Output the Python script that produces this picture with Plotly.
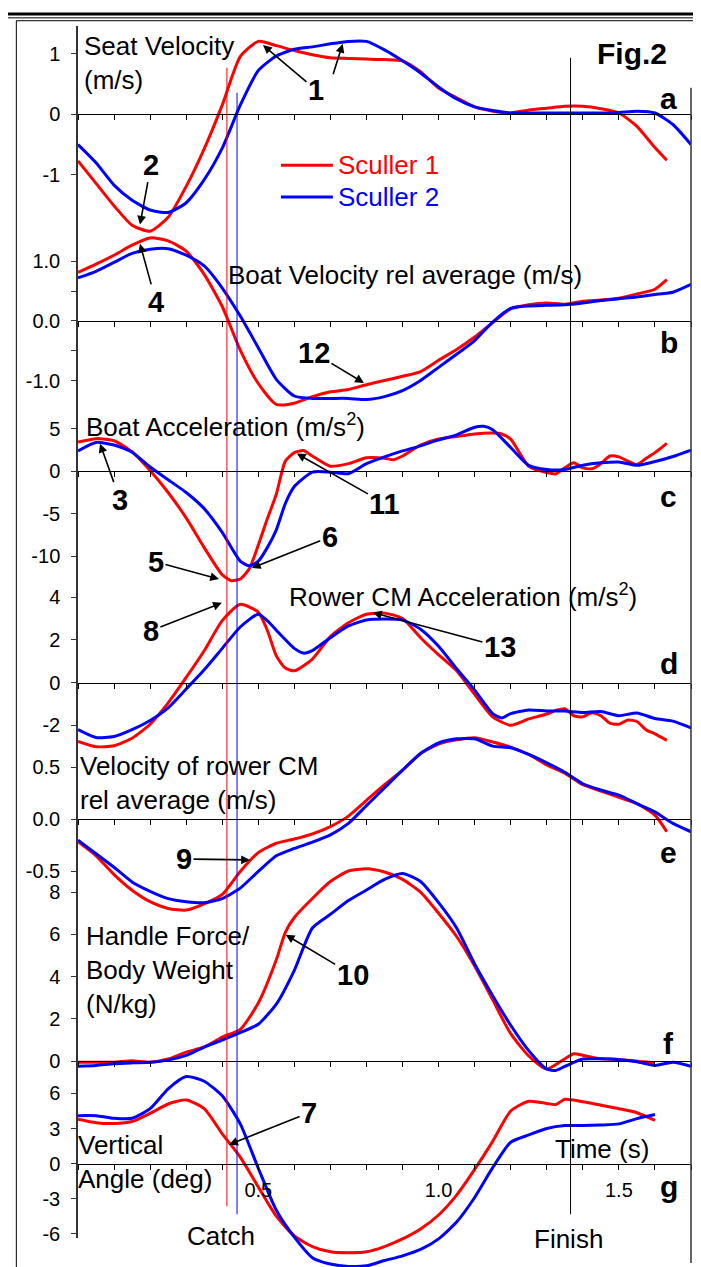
import plotly.graph_objects as go

# ------------------------------------------------------------------ data
TIME_FULL = [0.00, 0.05, 0.10, 0.15, 0.20, 0.25, 0.30, 0.35, 0.40, 0.45,
             0.50, 0.55, 0.60, 0.65, 0.70, 0.75, 0.80, 0.85, 0.90, 0.95,
             1.00, 1.05, 1.10, 1.15, 1.20, 1.25, 1.30, 1.35, 1.40, 1.45,
             1.50, 1.55, 1.60, 1.65, 1.70]
TIME_S1 = TIME_FULL[:33] + [1.633]

# (a) seat velocity (m/s)
seat_s1 = [-0.77, -1.14, -1.51, -1.83, -1.93, -1.70, -1.19, -0.57, 0.15, 0.95,
           1.20, 1.13, 1.05, 0.98, 0.93, 0.92, 0.91, 0.90, 0.88, 0.70,
           0.43, 0.27, 0.12, 0.05, 0.02, 0.07, 0.10, 0.13, 0.13, 0.09,
           0.02, -0.20, -0.55, -0.76]
seat_s2 = [-0.50, -0.80, -1.17, -1.42, -1.58, -1.62, -1.46, -1.08, -0.56, 0.15,
           0.72, 0.96, 1.07, 1.11, 1.16, 1.20, 1.20, 1.06, 0.88, 0.68,
           0.45, 0.25, 0.12, 0.06, 0.02, 0.02, 0.02, 0.02, 0.02, 0.02,
           0.03, 0.05, 0.02, -0.17, -0.50]

# (b) boat velocity rel average (m/s)
boat_vel_s1 = [0.81, 0.95, 1.10, 1.27, 1.39, 1.34, 1.17, 0.78, 0.24, -0.49,
               -1.05, -1.40, -1.38, -1.27, -1.19, -1.15, -1.07, -1.00, -0.93, -0.85,
               -0.66, -0.48, -0.27, -0.03, 0.20, 0.27, 0.30, 0.28, 0.33, 0.35,
               0.38, 0.45, 0.53, 0.69]
boat_vel_s2 = [0.72, 0.83, 0.98, 1.13, 1.20, 1.21, 1.10, 0.92, 0.55, 0.08,
               -0.45, -0.98, -1.26, -1.30, -1.30, -1.30, -1.32, -1.27, -1.17, -1.00,
               -0.78, -0.56, -0.33, -0.02, 0.21, 0.25, 0.26, 0.27, 0.30, 0.34,
               0.37, 0.40, 0.44, 0.48, 0.61]

# (c) boat acceleration (m/s2)
time_acc_s1 = [0.00, 0.05, 0.10, 0.15, 0.20, 0.25, 0.30, 0.35, 0.40, 0.425,
               0.45, 0.475, 0.50, 0.525, 0.55, 0.575, 0.60, 0.625, 0.65, 0.70,
               0.75, 0.80, 0.85, 0.875, 0.90, 0.95, 1.00, 1.05, 1.10, 1.15,
               1.175, 1.20, 1.25, 1.30, 1.325, 1.35, 1.375, 1.40, 1.425, 1.45,
               1.475, 1.50, 1.525, 1.55, 1.575, 1.60, 1.633]
boat_acc_s1 = [3.45, 3.85, 3.6, 2.3, 0.1, -2.5, -5.5, -9.0, -12.2, -12.9,
               -12.7, -11.5, -8.7, -5.6, -2.7, 1.2, 2.2, 2.45, 1.8, 0.6,
               0.9, 1.6, 1.55, 1.36, 1.8, 3.1, 3.8, 4.1, 4.4, 4.5,
               4.4, 3.8, 0.6, -0.15, -0.3, 0.4, 1.0, 0.4, 0.3, 0.9,
               1.8, 1.7, 1.2, 0.8, 1.5, 2.2, 3.3]
time_acc_s2 = [0.00, 0.05, 0.10, 0.15, 0.20, 0.25, 0.30, 0.35, 0.40, 0.45,
               0.475, 0.50, 0.525, 0.55, 0.575, 0.60, 0.65, 0.70, 0.75, 0.80,
               0.85, 0.90, 0.95, 1.00, 1.05, 1.10, 1.125, 1.15, 1.20, 1.25,
               1.30, 1.35, 1.40, 1.45, 1.50, 1.55, 1.60, 1.65, 1.70]
boat_acc_s2 = [2.4, 3.4, 3.1, 2.25, 0.5, -1.0, -2.5, -4.4, -7.2, -10.6,
               -11.15, -10.6, -9.0, -6.9, -3.8, -1.8, -0.1, -0.1, -0.28, 0.9,
               1.7, 2.4, 3.0, 3.7, 4.3, 5.2, 5.3, 4.9, 2.8, 0.7,
               0.2, 0.2, 0.72, 1.0, 1.1, 0.7, 1.15, 1.75, 2.5]

# (d) rower CM acceleration (m/s2)
time_cm_acc_s1 = [0.00, 0.05, 0.10, 0.15, 0.20, 0.25, 0.30, 0.35, 0.40, 0.45,
                  0.50, 0.525, 0.55, 0.575, 0.60, 0.65, 0.70, 0.75, 0.80, 0.85,
                  0.90, 0.95, 1.00, 1.05, 1.10, 1.15, 1.20, 1.25, 1.30, 1.325,
                  1.35, 1.375, 1.40, 1.425, 1.45, 1.475, 1.50, 1.525, 1.55, 1.575,
                  1.60, 1.633]
cm_acc_s1 = [-2.75, -3.0, -2.95, -2.6, -1.95, -0.95, 0.24, 1.49, 2.9, 3.66,
             3.3, 2.45, 1.25, 0.68, 0.55, 1.1, 2.15, 2.8, 3.2, 3.25,
             3.0, 2.1, 1.3, 0.55, -0.55, -1.6, -2.0, -1.7, -1.47, -1.3,
             -1.22, -1.55, -1.6, -1.41, -1.55, -1.9, -1.95, -1.75, -1.82, -2.2,
             -2.4, -2.7]
time_cm_acc_s2 = [0.00, 0.05, 0.10, 0.15, 0.20, 0.25, 0.30, 0.35, 0.40, 0.45,
                  0.50, 0.525, 0.55, 0.60, 0.625, 0.65, 0.70, 0.75, 0.80, 0.85,
                  0.90, 0.95, 1.00, 1.05, 1.10, 1.15, 1.175, 1.20, 1.25, 1.30,
                  1.35, 1.40, 1.45, 1.50, 1.55, 1.60, 1.65, 1.70]
cm_acc_s2 = [-2.2, -2.57, -2.52, -2.2, -1.77, -1.18, -0.3, 0.6, 1.6, 2.6,
             3.2, 2.9, 2.45, 1.6, 1.38, 1.5, 2.1, 2.65, 2.93, 2.97,
             2.93, 2.5, 1.7, 0.65, -0.35, -1.45, -1.65, -1.45, -1.28, -1.33,
             -1.33, -1.4, -1.35, -1.55, -1.42, -1.68, -1.8, -2.12]

# (e) velocity of rower CM rel average (m/s)
cm_vel_s1 = [-0.215, -0.35, -0.53, -0.68, -0.79, -0.855, -0.87, -0.81, -0.72, -0.50,
             -0.32, -0.23, -0.19, -0.14, -0.07, 0.03, 0.18, 0.33, 0.47, 0.63,
             0.72, 0.76, 0.78, 0.74, 0.69, 0.62, 0.52, 0.44, 0.33, 0.27,
             0.21, 0.15, 0.04, -0.12]
cm_vel_s2 = [-0.20, -0.33, -0.46, -0.60, -0.69, -0.76, -0.79, -0.80, -0.76, -0.66,
             -0.50, -0.35, -0.28, -0.22, -0.15, -0.04, 0.13, 0.30, 0.47, 0.63,
             0.73, 0.77, 0.77, 0.70, 0.685, 0.62, 0.54, 0.45, 0.34, 0.28,
             0.23, 0.15, 0.07, -0.04, -0.12]

# (f) handle force / body weight (N/kg)
time_force_s1 = [0.00, 0.05, 0.10, 0.15, 0.20, 0.25, 0.30, 0.35, 0.40, 0.45,
                 0.50, 0.55, 0.575, 0.60, 0.65, 0.70, 0.75, 0.80, 0.85, 0.90,
                 0.95, 1.00, 1.05, 1.10, 1.15, 1.20, 1.25, 1.30, 1.35, 1.375,
                 1.40, 1.45, 1.50, 1.55, 1.60]
force_s1 = [-0.05, -0.05, -0.05, 0.02, -0.05, 0.1, 0.43, 0.67, 1.14, 1.5,
            2.75, 4.8, 6.1, 6.8, 7.7, 8.5, 9.0, 9.1, 8.95, 8.6,
            8.0, 7.0, 5.9, 4.5, 2.9, 1.3, 0.25, -0.37, 0.11, 0.35,
            0.28, 0.11, 0.08, 0.0, -0.07]
time_force_s2 = [0.00, 0.05, 0.10, 0.15, 0.20, 0.25, 0.30, 0.35, 0.40, 0.45,
                 0.50, 0.55, 0.60, 0.65, 0.70, 0.75, 0.80, 0.85, 0.90, 0.95,
                 1.00, 1.05, 1.10, 1.15, 1.20, 1.25, 1.30, 1.325, 1.35, 1.40,
                 1.45, 1.50, 1.55, 1.60, 1.65, 1.70]
force_s2 = [-0.24, -0.2, -0.12, -0.08, -0.05, 0.05, 0.27, 0.67, 1.0, 1.35,
            1.75, 2.7, 4.3, 6.3, 6.95, 7.6, 8.1, 8.6, 8.88, 8.5,
            7.5, 6.3, 4.6, 3.1, 1.7, 0.5, -0.37, -0.44, -0.25, 0.1,
            0.11, 0.08, -0.03, -0.2, -0.05, -0.24]

# (g) vertical angle (deg)
time_angle_s1 = [0.00, 0.05, 0.10, 0.15, 0.20, 0.25, 0.30, 0.35, 0.40, 0.45,
                 0.50, 0.55, 0.60, 0.65, 0.70, 0.75, 0.80, 0.85, 0.90, 0.95,
                 1.00, 1.05, 1.10, 1.15, 1.20, 1.25, 1.30, 1.325, 1.35, 1.40,
                 1.45, 1.50, 1.55, 1.60]
angle_s1 = [3.8, 3.5, 3.43, 3.6, 4.3, 5.1, 5.45, 4.7, 2.55, 0.55,
            -2.0, -4.5, -6.2, -7.1, -7.55, -7.63, -7.55, -7.1, -6.45, -5.6,
            -4.4, -2.7, -0.5, 1.9, 4.5, 5.33, 5.15, 5.05, 5.5, 5.3,
            5.0, 4.7, 4.35, 3.7]
time_angle_s2 = TIME_FULL[:33]
angle_s2 = [4.1, 4.1, 3.88, 3.88, 4.7, 6.4, 7.45, 7.05, 5.8, 3.4,
            -0.4, -4.0, -6.3, -8.05, -8.6, -8.8, -8.75, -8.3, -7.9, -7.35,
            -6.44, -5.0, -2.9, -0.35, 1.83, 2.45, 3.0, 3.25, 3.25, 3.3,
            3.4, 3.85, 4.2]

# event times (s)
catch_s1, catch_s2, finish_time = 0.413, 0.441, 1.366

series_names = ["Sculler 1", "Sculler 2"]
colors = ["#ff0000", "#0000ff"]

panels = [
    ((TIME_S1, seat_s1), (TIME_FULL, seat_s2)),
    ((TIME_S1, boat_vel_s1), (TIME_FULL, boat_vel_s2)),
    ((time_acc_s1, boat_acc_s1), (time_acc_s2, boat_acc_s2)),
    ((time_cm_acc_s1, cm_acc_s1), (time_cm_acc_s2, cm_acc_s2)),
    ((TIME_S1, cm_vel_s1), (TIME_FULL, cm_vel_s2)),
    ((time_force_s1, force_s1), (time_force_s2, force_s2)),
    ((time_angle_s1, angle_s1), (time_angle_s2, angle_s2)),
]

y_tick_vals = [
    [1, 0, -1],
    [1, 0, -1],
    [5, 0, -5, -10],
    [4, 2, 0, -2],
    [0.5, 0, -0.5],
    [8, 6, 4, 2, 0],
    [6, 3, 0, -3, -6],
]
y_tick_text = [
    ["1", "0", "-1"],
    ["1.0", "0.0", "-1.0"],
    ["5", "0", "-5", "-10"],
    ["4", "2", "0", "-2"],
    ["0.5", "0.0", "-0.5"],
    ["8", "6", "4", "2", "0"],
    ["6", "3", "0", "-3", "-6"],
]
y_minor_vals = [[], [0.5, -0.5], [], [], [], [], []]
x_tick_vals = [0.0, 0.1, 0.2, 0.3, 0.4, 0.5, 0.6, 0.7, 0.8, 0.9,
               1.0, 1.1, 1.2, 1.3, 1.4, 1.5, 1.6, 1.7]
x_label_vals = [0.5, 1.0, 1.5]
x_label_text = ["0.5", "1.0", "1.5"]

# ------------------------------------------------------------------ layout geometry (pixels)
W, H = 701, 1267
PL, PR, PT, PB = 70.0, 683.3, 18.0, 1267.0          # plot area
PW, PH = PR - PL, PB - PT
X_RANGE = [0, 1.7]
PANEL_ZERO = [106.7, 314.5, 465.8, 678.3, 815.7, 1059.0, 1162.0]   # pixel row of y=0
PANEL_SCALE = [61.0, 60.0, 8.53, 21.5, 105.0, 21.25, 11.75]        # pixels per unit
AXIS_BOUNDS = [18, 230, 400, 575, 740, 880, 1075, 1237]           # left axis segments


def fy(Y):
    return (PB - Y) / PH


def fx(X):
    return (X - PL) / PW


FONT = "Liberation Sans, Arial, Helvetica, sans-serif"
AXCOL = "#333333"

fig = go.Figure()
layout = dict(
    width=W, height=H,
    margin=dict(l=PL, r=W - PR, t=PT, b=H - PB, pad=0),
    paper_bgcolor="white", plot_bgcolor="rgba(0,0,0,0)",
    showlegend=False,
    font=dict(family=FONT, color="black", size=20),
    xaxis=dict(range=X_RANGE, visible=False, domain=[0, 1]),
)

# data axes (full height, invisible) and tick axes (visible segments)
for i in range(7):
    yz, k = PANEL_ZERO[i], PANEL_SCALE[i]
    dname = "yaxis" if i == 0 else f"yaxis{i + 1}"
    layout[dname] = dict(
        domain=[0, 1], range=[(yz - PB) / k, (yz - PT) / k], visible=False,
        anchor="x", **({} if i == 0 else {"overlaying": "y"}))
    yt, yb = AXIS_BOUNDS[i], AXIS_BOUNDS[i + 1]
    tname = f"yaxis{i + 8}"
    tick_axis = dict(
        domain=[fy(yb), fy(yt)], range=[(yz - yb) / k, (yz - yt) / k],
        anchor="x", showgrid=False, zeroline=False, showline=True,
        linecolor=AXCOL, linewidth=1.5, ticks="outside", ticklen=5,
        tickcolor=AXCOL, tickwidth=1, tickvals=y_tick_vals[i],
        ticktext=y_tick_text[i], tickfont=dict(size=20, color="black"),
        ticklabelstandoff=7)
    if y_minor_vals[i]:
        tick_axis["minor"] = dict(tickmode="array", tickvals=y_minor_vals[i],
                                  ticks="outside", ticklen=5, tickcolor=AXCOL,
                                  showgrid=False)
    layout[tname] = tick_axis
    # zero-line x axes with tick marks (labels only on the bottom panel)
    xname = f"xaxis{i + 2}"
    layout[xname] = dict(
        range=X_RANGE, overlaying="x", anchor="free", position=fy(yz),
        showgrid=False, zeroline=False, showline=True, linecolor="black",
        linewidth=1, ticks="outside", ticklen=5, tickcolor="black",
        tickvals=x_tick_vals, showticklabels=False)

# separate label-only axis for the time tick labels of panel g
layout["xaxis9"] = dict(
    range=X_RANGE, overlaying="x", anchor="free", position=fy(PANEL_ZERO[6]),
    showgrid=False, zeroline=False, showline=False, ticks="",
    tickvals=x_label_vals, ticktext=x_label_text,
    tickfont=dict(size=20, color="black"), ticklabelstandoff=12)

# curves
for i, pair in enumerate(panels):
    yref = "y" if i == 0 else f"y{i + 1}"
    for j, (tt, vv) in enumerate(pair):
        fig.add_trace(go.Scatter(
            x=tt, y=vv, mode="lines", name=series_names[j],
            line=dict(color=colors[j], width=3, shape="spline", smoothing=0.6),
            xaxis="x", yaxis=yref, hoverinfo="skip"))
    # dummy traces to register the axis helpers
    fig.add_trace(go.Scatter(x=[None], y=[None], xaxis="x", yaxis=f"y{i + 8}",
                             hoverinfo="skip"))
    fig.add_trace(go.Scatter(x=[None], y=[None], xaxis=f"x{i + 2}", yaxis=yref,
                             hoverinfo="skip"))
fig.add_trace(go.Scatter(x=[None], y=[None], xaxis="x9", yaxis="y7", hoverinfo="skip"))

# ------------------------------------------------------------------ shapes
shapes = []
shapes.append(dict(type="line", xref="x", yref="paper", x0=catch_s1, x1=catch_s1,
                   y0=fy(1205), y1=fy(60), line=dict(color="#ff0000", width=1)))
shapes.append(dict(type="line", xref="x", yref="paper", x0=catch_s2, x1=catch_s2,
                   y0=fy(1213), y1=fy(85), line=dict(color="#0000ff", width=1)))
shapes.append(dict(type="line", xref="x", yref="paper", x0=finish_time, x1=finish_time,
                   y0=fy(1213), y1=fy(50), line=dict(color="black", width=1)))
# right boundary line
shapes.append(dict(type="line", xref="paper", yref="paper", x0=1, x1=1,
                   y0=fy(1262), y1=fy(80), line=dict(color=AXCOL, width=1.5)))
# page rules and frame
shapes.append(dict(type="line", xref="paper", yref="paper", x0=fx(0), x1=fx(701),
                   y0=fy(6), y1=fy(6), line=dict(color="black", width=3)))
shapes.append(dict(type="line", xref="paper", yref="paper", x0=fx(0), x1=fx(701),
                   y0=fy(9.8), y1=fy(9.8), line=dict(color="black", width=1)))
shapes.append(dict(type="line", xref="paper", yref="paper", x0=fx(8.3), x1=fx(701),
                   y0=fy(12.7), y1=fy(12.7), line=dict(color="black", width=1)))
shapes.append(dict(type="line", xref="paper", yref="paper", x0=fx(8.3), x1=fx(8.3),
                   y0=fy(12.7), y1=fy(1267), line=dict(color="black", width=1)))
# legend swatches
for j, Y in enumerate([158, 190]):
    shapes.append(dict(type="line", xref="paper", yref="paper", x0=fx(273), x1=fx(325),
                       y0=fy(Y), y1=fy(Y), line=dict(color=colors[j], width=3)))
layout["shapes"] = shapes

# ------------------------------------------------------------------ annotations
ann = []
LBL = 26


def label(text, X, Y, size=LBL, anchor="left", bold=False, color="black"):
    ann.append(dict(text=f"<b>{text}</b>" if bold else text, xref="paper", yref="paper",
                    x=fx(X), y=fy(Y), xanchor=anchor, yanchor="middle", align="left",
                    showarrow=False, font=dict(size=size, color=color, family=FONT)))


label("Seat Velocity<br>(m/s)", 74, 55)
label("Boat Velocity rel average (m/s)", 218, 268)
label("Boat Acceleration (m/s<sup>2</sup>)", 76, 420)
label("Rower CM Acceleration (m/s<sup>2</sup>)", 279, 591)
label("Velocity of rower CM<br>rel average (m/s)", 70, 779)
label("Handle Force/<br>Body Weight<br>(N/kg)", 76, 967)
label("Vertical<br>Angle (deg)", 68, 1160)
label("Time (s)", 545, 1147)
label("Catch", 213, 1235, anchor="center")
label("Finish", 561, 1238, anchor="center")
label("Fig.2", 624, 46, size=30, anchor="center", bold=True)
for letter, Y in zip("abcdefg", [91, 336, 491, 659, 849, 1041, 1185]):
    label(letter, 661, Y, size=30, anchor="center", bold=True)
label(series_names[0], 328, 158, color=colors[0])
label(series_names[1], 328, 190, color=colors[1])

# numbered arrows: (text, panel index, tip time, tip value, dx, dy)
arrows = [
    ("1", 0, 0.513, 1.14, 53, 45),
    ("", 0, 0.734, 1.16, -10, 32),
    ("2", 0, 0.172, -1.82, 11, -60),
    ("4", 1, 0.172, 1.29, 16, 58),
    ("12", 1, 0.793, -1.04, -50, -30),
    ("3", 2, 0.061, 3.26, 20, 56),
    ("11", 2, 0.607, 2.09, 88, 50),
    ("6", 2, 0.482, -11.4, 78, -31),
    ("5", 2, 0.391, -12.7, -63, -17),
    ("8", 3, 0.399, 3.73, -71, 28),
    ("13", 3, 0.818, 3.27, 127, 34),
    ("9", 4, 0.477, -0.39, -66, -1),
    ("10", 5, 0.576, 5.98, 67, 40),
    ("7", 6, 0.419, 1.62, 80, -32),
]
for text, pi, tx, ty, dx, dy in arrows:
    ann.append(dict(text=f"<b>{text}</b>" if text else "", xref="x",
                    yref="y" if pi == 0 else f"y{pi + 1}", x=tx, y=ty,
                    ax=dx, ay=dy, showarrow=True, arrowhead=2, arrowsize=1.1,
                    arrowwidth=1.6, arrowcolor="black", standoff=0,
                    font=dict(size=29, color="black", family=FONT)))
layout["annotations"] = ann

fig.update_layout(**layout)
fig.write_html("out.html")
